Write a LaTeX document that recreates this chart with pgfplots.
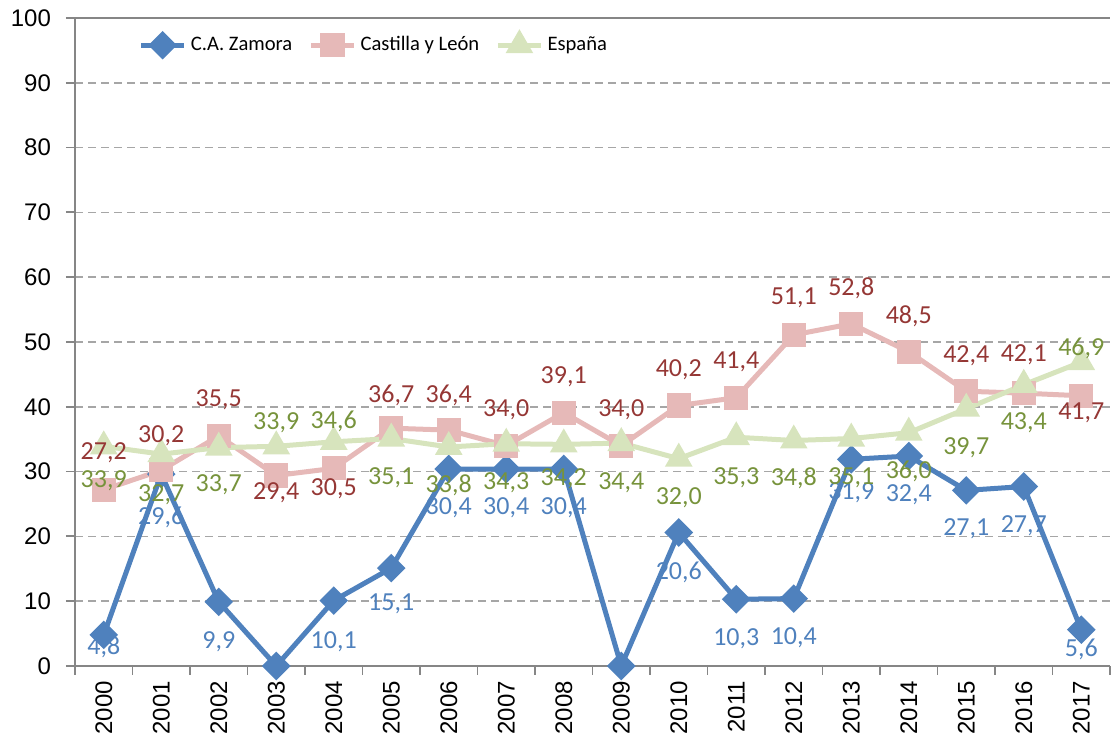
\documentclass[border=0pt]{standalone}
\usepackage{fontspec}
\setmainfont{Carlito}
\newfontfamily\arialf{Liberation Sans}
\usepackage{pgfplots}
\pgfplotsset{compat=1.18}
\usepackage{pgfplotstable}

\definecolor{zamline}{HTML}{4F81BD}
\definecolor{zamtext}{HTML}{4F81BD}
\definecolor{cylline}{HTML}{E6B9B8}
\definecolor{cyltext}{HTML}{953735}
\definecolor{espline}{HTML}{D7E4BD}
\definecolor{esptext}{HTML}{77933C}
\definecolor{axisgray}{HTML}{868686}
\definecolor{gridgray}{HTML}{A6A6A6}

% x = year index (2000 = 0), y = value, d = label shift up in px (0 = no label)
\pgfplotstableread{
x y d
0 4.8 -12
1 29.6 -43
2 9.9 -40
3 0 0
4 10.1 -41
5 15.1 -36
6 30.4 -39
7 30.4 -39
8 30.4 -39
9 0 0
10 20.6 -40
11 10.3 -39
12 10.4 -39
13 31.9 -33
14 32.4 -39
15 27.1 -38
16 27.7 -39
17 5.6 -20
}\zamora

\pgfplotstableread{
x y d
0 27.2 37
1 30.2 35
2 35.5 36
3 29.4 -17
4 30.5 -20
5 36.7 33
6 36.4 35
7 34.0 36
8 39.1 36
9 34.0 36
10 40.2 36
11 41.4 36
12 51.1 37
13 52.8 36
14 48.5 35
15 42.4 36
16 42.1 38
17 41.7 -17
}\cyl

\pgfplotstableread{
x y d
0 33.9 -34
1 32.7 -41
2 33.7 -37
3 33.9 24
4 34.6 20
5 35.1 -39
6 33.8 -38
7 34.3 -39
8 34.2 -34
9 34.4 -40
10 32.0 -39
11 35.3 -40
12 34.8 -38
13 35.1 -39
14 36.0 -39
15 39.7 -39
16 43.4 -38
17 46.9 14
}\espana

\pgfplotsset{
  lbl/.style={draw=none, mark=none, forget plot, point meta=y,
    visualization depends on={\thisrow{d}\as\lblshift},
    nodes near coords={\ifdim\lblshift pt=0pt \else\pgfmathprintnumber[fixed,fixed zerofill,precision=1,use comma]{\pgfplotspointmeta}\fi},
    every node near coord/.append style={anchor=center, yshift=\lblshift*0.5pt,
      font=\fontsize{13}{14}\selectfont, text=#1, inner sep=0pt}},
}

\begin{document}
\begin{tikzpicture}
\begin{axis}[
  scale only axis, width=517.5pt, height=324pt,
  xmin=-0.5, xmax=17.5, ymin=0, ymax=100,
  xtick={-0.5,0.5,...,17.5}, xticklabels={},
  extra x ticks={0,1,...,17},
  extra x tick labels={2000,2001,2002,2003,2004,2005,2006,2007,2008,2009,2010,2011,2012,2013,2014,2015,2016,2017},
  extra x tick style={major tick length=0pt, xticklabel shift=4pt,
    tick label style={rotate=90, anchor=east}},
  ytick={0,10,...,100},
  yticklabel shift=4pt,
  tick align=outside, major tick length=4.5pt,
  ymajorgrids,
  major grid style={gridgray, dash pattern=on 4pt off 2.5pt, line width=0.8pt},
  axis x line*=bottom, axis y line*=left,
  axis line style={axisgray, line width=0.9pt},
  tick style={axisgray, line width=0.9pt},
  tick label style={font=\arialf\fontsize{12}{12}\selectfont},
  /pgf/number format/assume math mode=true,
  clip=false,
  legend style={at={(0.061,0.958)}, anchor=west, draw=none, fill=none,
    inner sep=0pt, font=\fontsize{10.3}{12}\selectfont,
    /tikz/every even column/.append style={column sep=6pt}},
  legend columns=-1,
  legend cell align=left,
  legend image code/.code={\draw[mark repeat=2,mark phase=2] plot coordinates {(0cm,0cm) (0.38cm,0cm) (0.76cm,0cm)};},
]
\coordinate (pll) at (rel axis cs:0,0);
\coordinate (pur) at (rel axis cs:1,1);
\draw[axisgray, line width=0.9pt] (rel axis cs:0,1) -- (rel axis cs:1,1);

\addplot[zamline, line width=2.5pt, mark=square*, mark size=3.8pt,
  mark options={rotate=45, solid}] table[x=x,y=y] {\zamora};
\addlegendentry{C.A. Zamora}
\addplot[cylline, line width=2.5pt, mark=square*, mark size=4.8pt,
  mark options={solid}] table[x=x,y=y] {\cyl};
\addlegendentry{Castilla y León}
\addplot[espline, line width=2.5pt, mark=triangle*, mark size=5.5pt,
  mark options={solid}] table[x=x,y=y] {\espana};
\addlegendentry{España}

\addplot[lbl=zamtext] table[x=x,y=y] {\zamora};
\addplot[lbl=cyltext] table[x=x,y=y] {\cyl};
\addplot[lbl=esptext] table[x=x,y=y] {\espana};
\end{axis}
\pgfresetboundingbox
\path[use as bounding box] ([xshift=-37.5pt,yshift=-38pt]pll) rectangle ([xshift=1pt,yshift=9pt]pur);
\end{tikzpicture}
\end{document}
